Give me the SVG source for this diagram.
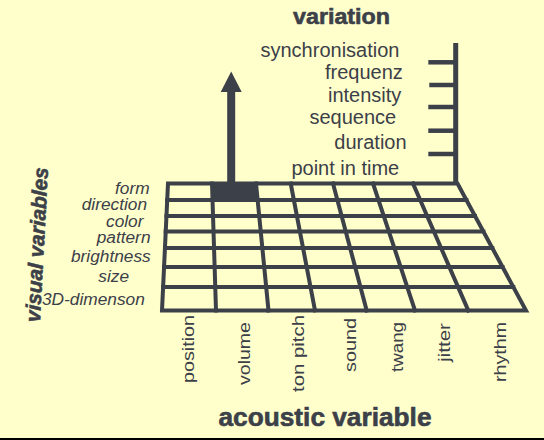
<svg xmlns="http://www.w3.org/2000/svg" width="544" height="440" viewBox="0 0 544 440">
<style>
.ln{stroke:#3c4048;stroke-width:4;fill:none;stroke-linecap:square}
.tk{stroke:#3c4048;stroke-width:4.5;fill:none}
.t{font-family:"Liberation Sans",Arial,sans-serif;fill:#3c4048}
.lab{font-size:20px}
.vis{font-size:17.3px;font-style:italic}
.ac{font-size:16.5px}
.bold{font-weight:bold;stroke:#3c4048;stroke-width:0.6}
</style>
<rect x="0" y="0" width="544" height="440" fill="#FFFFCC"/>
<rect x="0" y="438" width="544" height="2" fill="#000"/>

<g id="grid">
<polygon points="212,183.5 256,183.5 257.5,200 212.5,200" fill="#3c4048"/>
<polygon class="ln" points="168,183.5 457.5,183.5 526,310.5 162,310.5"/>
<line class="ln" x1="167.2" y1="200" x2="466.4" y2="200"/>
<line class="ln" x1="166.5" y1="216" x2="475" y2="216"/>
<line class="ln" x1="165.7" y1="231.5" x2="483.4" y2="231.5"/>
<line class="ln" x1="165" y1="248" x2="492.3" y2="248"/>
<line class="ln" x1="164.1" y1="267" x2="502.5" y2="267"/>
<line class="ln" x1="163.1" y1="287" x2="513.3" y2="287"/>
<line class="ln" x1="212" y1="183.5" x2="216" y2="310.5"/>
<line class="ln" x1="256" y1="183.5" x2="268.5" y2="310.5"/>
<line class="ln" x1="290.7" y1="183.5" x2="315" y2="310.5"/>
<line class="ln" x1="333" y1="183.5" x2="366.7" y2="310.5"/>
<line class="ln" x1="373" y1="183.5" x2="415" y2="310.5"/>
<line class="ln" x1="413" y1="183.5" x2="468.3" y2="310.5"/>
</g>

<g id="arrow">
<rect x="227.2" y="88" width="8" height="96" fill="#3c4048"/>
<polygon points="231.2,71.5 241.7,92 220.7,92" fill="#3c4048"/>
</g>

<g id="variation-axis">
<line x1="455.7" y1="43" x2="455.7" y2="185" stroke="#3c4048" stroke-width="5"/>
<line class="tk" x1="428.3" y1="62.3" x2="455" y2="62.3"/>
<line class="tk" x1="429.3" y1="85" x2="455" y2="85"/>
<line class="tk" x1="428.3" y1="107" x2="455" y2="107"/>
<line class="tk" x1="428.3" y1="130.7" x2="455" y2="130.7"/>
<line class="tk" x1="428.3" y1="154" x2="455" y2="154"/>
</g>

<g id="variation-labels">
<text class="t bold" x="293" y="24" font-size="22" textLength="97" lengthAdjust="spacingAndGlyphs">variation</text>
<text class="t lab" x="260.5" y="57">synchronisation</text>
<text class="t lab" x="325" y="79">frequenz</text>
<text class="t lab" x="328" y="101.7">intensity</text>
<text class="t lab" x="309.5" y="124">sequence</text>
<text class="t lab" x="334.3" y="148.5">duration</text>
<text class="t lab" x="291.4" y="174.5">point in time</text>
</g>

<g id="visual-labels">
<text class="t bold" font-style="italic" font-size="21" text-anchor="middle" transform="translate(44,245) rotate(-87)" textLength="155" lengthAdjust="spacingAndGlyphs">visual variables</text>
<text class="t vis" x="115" y="194.3">form</text>
<text class="t vis" x="81.7" y="210">direction</text>
<text class="t vis" x="106" y="227.3">color</text>
<text class="t vis" x="96.7" y="242.5">pattern</text>
<text class="t vis" x="71" y="261.5">brightness</text>
<text class="t vis" x="98.3" y="281.5">size</text>
<text class="t vis" x="42" y="305">3D-dimenson</text>
</g>

<g id="acoustic-labels">
<text class="t ac" transform="translate(193.5,383) rotate(-90)" textLength="68" lengthAdjust="spacingAndGlyphs">position</text>
<text class="t ac" transform="translate(250,385) rotate(-90)" textLength="63" lengthAdjust="spacingAndGlyphs">volume</text>
<text class="t ac" transform="translate(303.5,392) rotate(-90)" textLength="77" lengthAdjust="spacingAndGlyphs">ton pitch</text>
<text class="t ac" transform="translate(355.5,372) rotate(-90)" textLength="54" lengthAdjust="spacingAndGlyphs">sound</text>
<text class="t ac" transform="translate(402.5,372) rotate(-90)" textLength="50" lengthAdjust="spacingAndGlyphs">twang</text>
<text class="t ac" transform="translate(450,362) rotate(-90)" textLength="39" lengthAdjust="spacingAndGlyphs">jitter</text>
<text class="t ac" transform="translate(506,382) rotate(-90)" textLength="60" lengthAdjust="spacingAndGlyphs">rhythm</text>
<text class="t bold" x="218.5" y="426" font-size="26" textLength="213" lengthAdjust="spacingAndGlyphs">acoustic variable</text>
</g>
</svg>
